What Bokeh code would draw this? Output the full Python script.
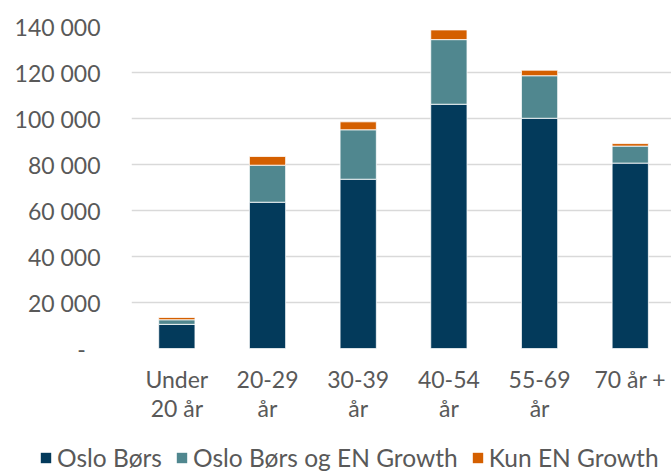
from bokeh.plotting import figure
from bokeh.layouts import column
from bokeh.models import Range1d, FixedTicker, Legend, LegendItem
from bokeh.embed import file_html
from bokeh.resources import INLINE

categories = ["Under\n20 år", "20-29\når", "30-39\når", "40-54\når", "55-69\når", "70 år +"]
oslo_bors = [10500, 63600, 73600, 106200, 100100, 80600]
oslo_og_en = [2000, 16100, 21500, 28100, 18500, 7400]
kun_en = [1000, 3800, 3450, 4200, 2400, 1100]
series_names = ["Oslo Børs", "Oslo Børs og EN Growth", "Kun EN Growth"]
colors = ["#033A5B", "#50878F", "#D45F00"]
y_ticks = [0, 20000, 40000, 60000, 80000, 100000, 120000, 140000]
y_tick_labels = ["-\u00a0\u00a0\u2009", "20 000", "40 000", "60 000", "80 000", "100 000", "120 000", "140 000"]

FONT = "Lato"
TXT = "#595959"

xs = list(range(1, len(categories) + 1))
data = {"x": xs, "a": oslo_bors, "b": oslo_og_en, "c": kun_en}

p = figure(width=671, height=440, output_backend="svg", toolbar_location=None,
           x_range=Range1d(0.5, 6.455), y_range=Range1d(0, 140000),
           min_border_left=131, min_border_right=0, min_border_top=26, min_border_bottom=92)
p.frame_align = False
p.outline_line_color = None
p.background_fill_color = "white"
p.border_fill_color = "white"

rs = p.vbar_stack(["a", "b", "c"], x="x", width=0.4, source=data, color=colors,
                  line_color="white", line_width=0.8)

p.xgrid.grid_line_color = None
p.ygrid.grid_line_color = "#D9D9D9"
p.ygrid.grid_line_width = 1.5
p.ygrid.ticker = FixedTicker(ticks=y_ticks)

p.yaxis.ticker = FixedTicker(ticks=y_ticks)
p.yaxis.major_label_overrides = {t: l for t, l in zip(y_ticks, y_tick_labels)}
p.yaxis.axis_line_color = None
p.yaxis.major_tick_line_color = None
p.yaxis.minor_tick_line_color = None
p.yaxis.major_tick_out = 0
p.yaxis.major_label_standoff = 31
p.yaxis.major_label_text_font = FONT
p.yaxis.major_label_text_font_size = "23px"
p.yaxis.major_label_text_color = TXT

p.xaxis.ticker = FixedTicker(ticks=xs)
p.xaxis.major_label_overrides = {x: c for x, c in zip(xs, categories)}
p.xaxis.axis_line_color = None
p.xaxis.major_tick_line_color = None
p.xaxis.minor_tick_line_color = None
p.xaxis.major_tick_out = 0
p.xaxis.major_label_standoff = 16
p.xaxis.major_label_text_font = FONT
p.xaxis.major_label_text_font_size = "23px"
p.xaxis.major_label_text_line_height = 1.07
p.xaxis.major_label_text_color = TXT

# legend strip below the chart
p2 = figure(width=671, height=31, output_backend="svg", toolbar_location=None,
            x_axis_location=None, y_axis_location=None,
            x_range=Range1d(0, 1), y_range=Range1d(0, 1),
            min_border_left=0, min_border_right=0, min_border_top=0, min_border_bottom=0)
p2.frame_align = False
p2.outline_line_color = None
p2.xgrid.grid_line_color = None
p2.ygrid.grid_line_color = None
dummies = [p2.vbar(x=[0.5], top=[0], width=0.0, color=c, line_color=None) for c in colors]

legend = Legend(items=[LegendItem(label=n, renderers=[r]) for n, r in zip(series_names, dummies)],
                orientation="horizontal", location=(39, -1))
legend.label_text_font = FONT
legend.label_text_font_size = "24.5px"
legend.label_text_color = TXT
legend.glyph_width = 13
legend.glyph_height = 13
legend.label_standoff = 5
legend.spacing = 13
legend.padding = 0
legend.margin = 0
legend.border_line_color = None
legend.background_fill_alpha = 0
p2.add_layout(legend, "center")

layout = column(p, p2, spacing=0)
open("out.html", "w").write(file_html(layout, INLINE))
